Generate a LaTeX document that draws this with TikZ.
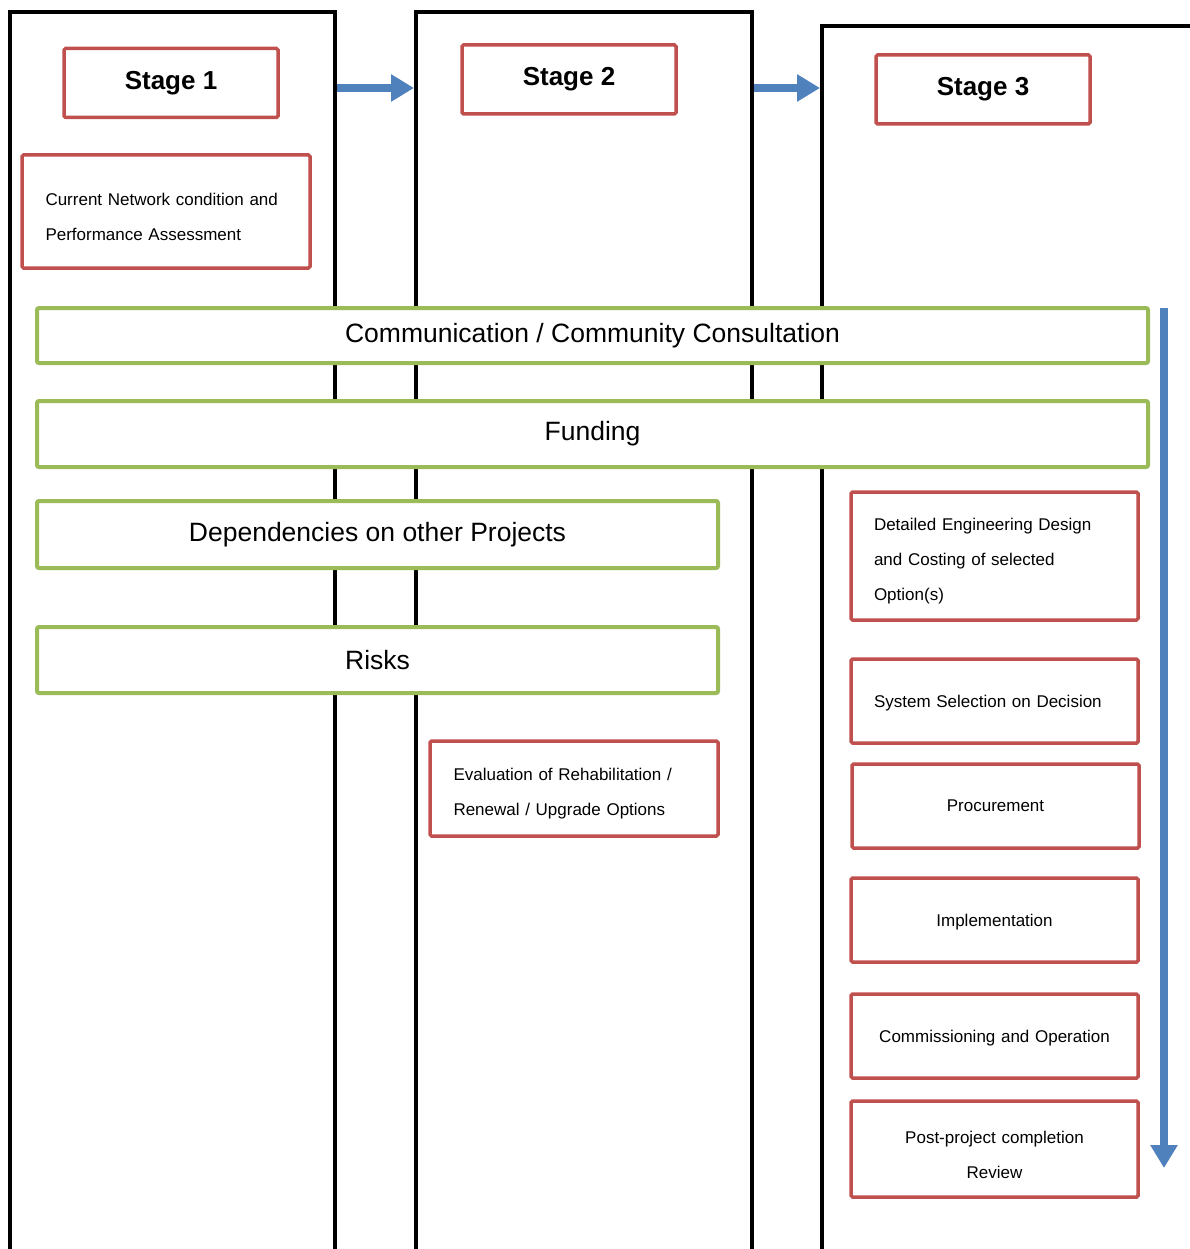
\documentclass[tikz,border=0pt]{standalone}
\usepackage{fontspec}
\setmainfont{Liberation Sans}
\usetikzlibrary{arrows.meta}

\definecolor{boxred}{HTML}{C0504D}
\definecolor{boxgreen}{HTML}{9BBB59}
\definecolor{flowblue}{HTML}{4F81BD}

\begin{document}
\begin{tikzpicture}[x=1pt,y=-1pt,
    column/.style={line width=4pt},
    stagebox/.style={draw=boxred,line width=3.5pt,rounded corners=1.5pt,fill=white,
      minimum width=214pt,minimum height=69pt,font=\fontsize{26}{30}\selectfont\bfseries},
    taskbox/.style={draw=boxred,line width=3.5pt,rounded corners=1.5pt,fill=white,
      minimum width=287pt,inner xsep=0pt,inner ysep=0pt,font=\fontsize{17}{35}\selectfont,
      execute at end node={\vspace{-11pt}}},
    lefttext/.style={text width=241pt,align=left},
    midtext/.style={text width=241pt,align=center},
    bandbox/.style={draw=boxgreen,line width=4pt,rounded corners=2pt,fill=white,
      font=\fontsize{26.5}{30}\selectfont},
    flow/.style={draw=flowblue,line width=8pt,-{Triangle[length=23pt,width=26pt]}}]

  \useasboundingbox (0,0) rectangle (1190,1249);

  % stage columns, open at the bottom
  \draw[column] (10,1260) |- (335,12) -- (335,1260);
  \draw[column] (416,1260) |- (752,12) -- (752,1260);
  \draw[column] (822,1260) |- (1200,26);

  \coordinate (oneout) at (337,88);
  \coordinate (twoin) at (414,88);
  \coordinate (twoout) at (754,88);
  \coordinate (threein) at (820,88);
  \coordinate (flowtop) at (1164,308);
  \coordinate (flowend) at (1164,1168);

  \node[stagebox] (stageone) at (171,83) {Stage 1};
  \node[stagebox] (stagetwo) at (569,79.5) {Stage 2};
  \node[stagebox] (stagethree) at (983,89.5) {Stage 3};

  \draw[flow] (oneout) -- (twoin);
  \draw[flow] (twoout) -- (threein);

  \node[taskbox,lefttext,minimum width=288pt,minimum height=113pt] (assess) at (166,211.5)
    {Current Network condition and\\Performance Assessment};

  \node[bandbox,minimum width=1111pt,minimum height=55pt] (consult) at (592.5,335.5)
    {Communication / Community Consultation};
  \node[bandbox,minimum width=1111pt,minimum height=66pt] (funding) at (592.5,434)
    {Funding};
  \node[bandbox,minimum width=681pt,minimum height=67pt] (depend) at (377.5,534.5)
    {Dependencies on other Projects};
  \node[bandbox,minimum width=681pt,minimum height=66pt] (risks) at (377.5,660)
    {Risks};

  \node[taskbox,lefttext,minimum width=288pt,minimum height=95pt] (options) at (574,788.5)
    {Evaluation of Rehabilitation /\\Renewal / Upgrade Options};

  \node[taskbox,lefttext,minimum height=128pt] (design) at (994.5,556)
    {Detailed Engineering Design\\and Costing of selected\\Option(s)};
  \node[taskbox,lefttext,minimum height=84pt] (select) at (994.5,701)
    {System Selection on Decision};
  \node[taskbox,midtext,minimum height=84pt] (procure) at (995.5,806)
    {Procurement};
  \node[taskbox,midtext,minimum height=84pt] (implement) at (994.5,920)
    {Implementation};
  \node[taskbox,midtext,minimum height=84pt] (commission) at (994.5,1036)
    {Commissioning and Operation};
  \node[taskbox,midtext,minimum height=96pt] (review) at (994.5,1149)
    {Post-project completion\\Review};

  \draw[flow] (flowtop) -- (flowend);

\end{tikzpicture}
\end{document}
